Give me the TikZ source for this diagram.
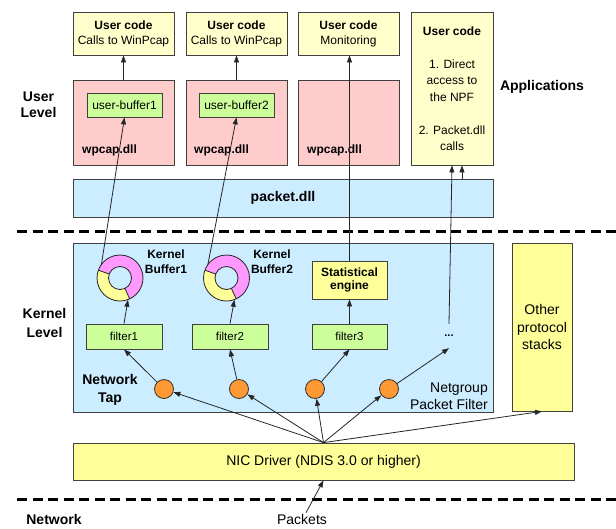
\documentclass[tikz,border=0pt]{standalone}
\usepackage{fontspec}
\setmainfont{Liberation Sans}
\usetikzlibrary{arrows.meta,calc}
\definecolor{ucyel}{HTML}{FFFFCC}
\definecolor{pinkc}{HTML}{FFCCCC}
\definecolor{greenc}{HTML}{CCFF99}
\definecolor{bluec}{HTML}{CCECFF}
\definecolor{yelc}{HTML}{FFFF99}
\definecolor{ringpink}{HTML}{FF99FF}
\definecolor{orangec}{HTML}{FF9933}
\newcommand\fsz[2]{\fontsize{#1}{#2}\selectfont}
\begin{document}
\begin{tikzpicture}[x=1pt,y=-1pt,
  box/.style={draw=black!75, line width=0.8pt, inner sep=0pt},
  lbl/.style={inner sep=0pt},
  arr/.style={draw=black!85, line width=0.8pt, -{Triangle[length=7pt,width=5pt]}},
  dashline/.style={line width=3pt, dash pattern=on 10pt off 5.5pt},
  tap/.style={circle, draw=black!80, line width=0.8pt, fill=orangec, minimum size=19pt, inner sep=0pt},
  ringnode/.style={circle, minimum size=46pt, inner sep=0pt}
]
\useasboundingbox (0,0) rectangle (616,528);

% user code boxes
\node[box, fill=ucyel, minimum width=101pt, minimum height=43pt, align=center, font=\fsz{12}{15}] (uc1) at (123.5,33.5) {\textbf{User code}\\Calls to WinPcap};
\node[box, fill=ucyel, minimum width=101pt, minimum height=43pt, align=center, font=\fsz{12}{15}] (uc2) at (236.5,33.5) {\textbf{User code}\\Calls to WinPcap};
\node[box, fill=ucyel, minimum width=101pt, minimum height=43pt, align=center, font=\fsz{12}{15}] (uc3) at (348.5,33.5) {\textbf{User code}\\Monitoring};
\node[box, fill=ucyel, minimum width=82pt, minimum height=153pt, align=center, font=\fsz{12}{16.5}] (uc4) at (452,88.5) {\textbf{User code}\\[16.5pt]1. Direct\\access to\\the NPF\\[16.5pt]2. Packet.dll\\calls};

% wpcap boxes
\node[box, fill=pinkc, minimum width=101pt, minimum height=85pt] (wp1) at (123.5,122.5) {};
\node[box, fill=pinkc, minimum width=101pt, minimum height=85pt] (wp2) at (236.5,122.5) {};
\node[box, fill=pinkc, minimum width=101pt, minimum height=85pt] (wp3) at (348.5,122.5) {};
\node[box, fill=greenc, minimum width=75pt, minimum height=24pt, font=\fsz{12}{14}] (ub1) at (124.5,105) {user-buffer1};
\node[box, fill=greenc, minimum width=75pt, minimum height=24pt, font=\fsz{12}{14}] (ub2) at (236.5,105) {user-buffer2};
\node[lbl, anchor=west, font=\fsz{12}{14}\bfseries] (wl1) at (82,150) {wpcap.dll};
\node[lbl, anchor=west, font=\fsz{12}{14}\bfseries] (wl2) at (194,150) {wpcap.dll};
\node[lbl, anchor=west, font=\fsz{12}{14}\bfseries] (wl3) at (307,150) {wpcap.dll};

\node[lbl, font=\fsz{14}{16}\bfseries] (apps) at (542,87) {Applications};
\node[lbl, align=center, font=\fsz{14}{16}\bfseries] (ulev) at (38.5,105) {User\\Level};

% packet.dll
\node[box, fill=bluec, minimum width=420pt, minimum height=38pt, font=\fsz{14}{16}\bfseries] (pkt) at (283,198) {packet.dll};

\draw[dashline] (17,231) -- (616,231);

% kernel
\node[box, fill=bluec, minimum width=420pt, minimum height=169pt] (npf) at (283,327.5) {};
\node[box, fill=yelc, minimum width=60pt, minimum height=168pt, align=center, font=\fsz{14}{17.5}] (other) at (542,327) {Other\\protocol\\stacks};
\node[lbl, align=center, font=\fsz{14}{19}\bfseries] (klev) at (44.5,322.5) {Kernel\\Level};

% rings
\node[ringnode] (kb1) at (120,278) {};
\node[ringnode] (kb2) at (226.5,278) {};
\foreach \r in {kb1,kb2}{
\begin{scope}[shift={(\r.center)}, yscale=-1]
  \fill[ringpink, even odd rule] (0,0) circle[radius=23] (0,0) circle[radius=11.5];
  \fill[yelc] (160:23) arc[start angle=160, end angle=295, radius=23] -- (295:11.5) arc[start angle=295, end angle=160, radius=11.5] -- cycle;
  \draw[black!85, line width=0.8pt] (0,0) circle[radius=23] (0,0) circle[radius=11.5] (160:11.5) -- (160:23) (295:11.5) -- (295:23);
\end{scope}}
\node[lbl, align=center, font=\fsz{12}{15}\bfseries] (kbl1) at (166,261.5) {Kernel\\Buffer1};
\node[lbl, align=center, font=\fsz{12}{15}\bfseries] (kbl2) at (272,261.5) {Kernel\\Buffer2};

\node[box, fill=yelc, minimum width=75pt, minimum height=38pt, align=center, font=\fsz{12}{13}\bfseries] (stat) at (349.5,280) {Statistical\\engine};

\node[box, fill=greenc, minimum width=76pt, minimum height=25pt, font=\fsz{11.5}{13}] (f1) at (124,336.5) {filter1};
\node[box, fill=greenc, minimum width=76pt, minimum height=25pt, font=\fsz{11.5}{13}] (f2) at (230,336.5) {filter2};
\node[box, fill=greenc, minimum width=75pt, minimum height=25pt, font=\fsz{11.5}{13}] (f3) at (349.5,336.5) {filter3};
\node[inner sep=0pt, minimum height=24pt, font=\fsz{11}{12}\bfseries] (dots) at (449,336) {...};

\node[tap] (c1) at (164,389) {};
\node[tap] (c2) at (239,389) {};
\node[tap] (c3) at (315,389) {};
\node[tap] (c4) at (389,389) {};

\node[lbl, align=center, font=\fsz{14}{18}\bfseries] (ntap) at (110,390) {Network\\Tap};
\node[lbl, anchor=east, align=right, font=\fsz{14}{17}] (npfl) at (488,396.5) {Netgroup\\Packet Filter};

% NIC
\node[box, fill=yelc, minimum width=501pt, minimum height=37pt, font=\fsz{14}{16}] (nic) at (323.5,461.5) {NIC Driver (NDIS 3.0 or higher)};
\coordinate (nsrc) at (nic.north);

\draw[dashline] (17,499) -- (616,499);
\node[lbl, font=\fsz{14}{16}\bfseries] (netl) at (54,519) {Network};
\node[inner sep=1pt, font=\fsz{14}{16}] (pk) at (302,519) {Packets};

% connectors
\draw[arr] (wp1.north) -- (uc1.south);
\draw[arr] (wp2.north) -- (uc2.south);
\draw[arr] (kb1.143) -- (ub1.south);
\draw[arr] (kb2.143) -- (ub2.south);
\draw[arr] (stat.north) -- (stat.north |- uc3.south);
\draw[arr] (dots.north) -- (uc4.south);
\draw[arr] ([xshift=10pt]uc4.south |- pkt.north) -- ([xshift=10pt]uc4.south);
\draw[arr] (f1.north) -- (kb1.290);
\draw[arr] (f2.north) -- (kb2.290);
\draw[arr] (f3.north) -- (stat.south);
\draw[arr] (c1) -- (f1.south);
\draw[arr] (c2) -- (f2.south);
\draw[arr] (c3) -- (f3.south);
\draw[arr] (c4) -- (dots.south);
\draw[arr] (nsrc) -- (c1);
\draw[arr] (nsrc) -- (c2);
\draw[arr] (nsrc) -- (c3);
\draw[arr] (nsrc) -- (c4);
\draw[arr] (nsrc) -- (other.south);
\draw[arr] ([xshift=4pt]pk.north) -- (nic.south);
\end{tikzpicture}
\end{document}
